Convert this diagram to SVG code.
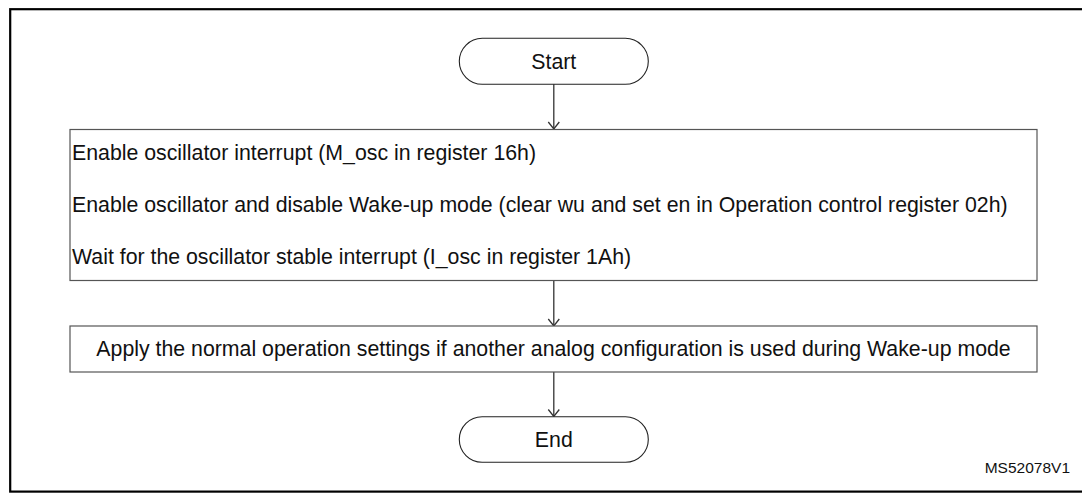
<svg xmlns="http://www.w3.org/2000/svg" width="1082" height="493" viewBox="0 0 1082 493">
  <defs>
    <style>
      .frame { fill: none; stroke: #000; stroke-width: 2.2; }
      .box { fill: #fff; stroke: #555; stroke-width: 1.2; }
      .term { fill: #fff; stroke: #222; stroke-width: 1.1; }
      .txt { font-family: "Liberation Sans", Arial, sans-serif; font-size: 21.3px; fill: #111; }
      .mid { text-anchor: middle; }
      .conn { fill: none; stroke: #333; stroke-width: 1.3; }
      .ref { font-family: "Liberation Sans", Arial, sans-serif; font-size: 15.5px; fill: #111; text-anchor: end; }
    </style>
    <marker id="arrow" markerUnits="userSpaceOnUse" viewBox="-9 -7 10 14" refX="0" refY="0" markerWidth="10" markerHeight="14" orient="auto" overflow="visible">
      <path d="M-7,-5.5 L0,0 L-7,5.5" fill="none" stroke="#333" stroke-width="1.3"/>
    </marker>
  </defs>

  <rect class="frame" x="10.2" y="9.2" width="1100" height="482.4"/>

  <g id="connectors">
    <line class="conn" x1="553.8" y1="84" x2="553.8" y2="129" marker-end="url(#arrow)"/>
    <line class="conn" x1="553.8" y1="281" x2="553.8" y2="326" marker-end="url(#arrow)"/>
    <line class="conn" x1="553.8" y1="372" x2="553.8" y2="416.5" marker-end="url(#arrow)"/>
  </g>

  <g id="start">
    <rect class="term" x="459.3" y="38.3" width="189" height="46" rx="23" ry="23"/>
    <text class="txt mid" x="553.8" y="68.5">Start</text>
  </g>

  <g id="step1">
    <rect class="box" x="70" y="129.5" width="967" height="151"/>
    <text class="txt" x="72" y="160">Enable oscillator interrupt (M_osc in register 16h)</text>
    <text class="txt" x="72" y="212">Enable oscillator and disable Wake-up mode (clear wu and set en in Operation control register 02h)</text>
    <text class="txt" x="72" y="264">Wait for the oscillator stable interrupt (I_osc in register 1Ah)</text>
  </g>

  <g id="step2">
    <rect class="box" x="70" y="326" width="967" height="46"/>
    <text class="txt mid" x="553.5" y="355.5">Apply the normal operation settings if another analog configuration is used during Wake-up mode</text>
  </g>

  <g id="end">
    <rect class="term" x="459.3" y="416.7" width="189" height="45.6" rx="22.8" ry="22.8"/>
    <text class="txt mid" x="553.8" y="446.8">End</text>
  </g>

  <text class="ref" x="1070" y="473">MS52078V1</text>
</svg>
